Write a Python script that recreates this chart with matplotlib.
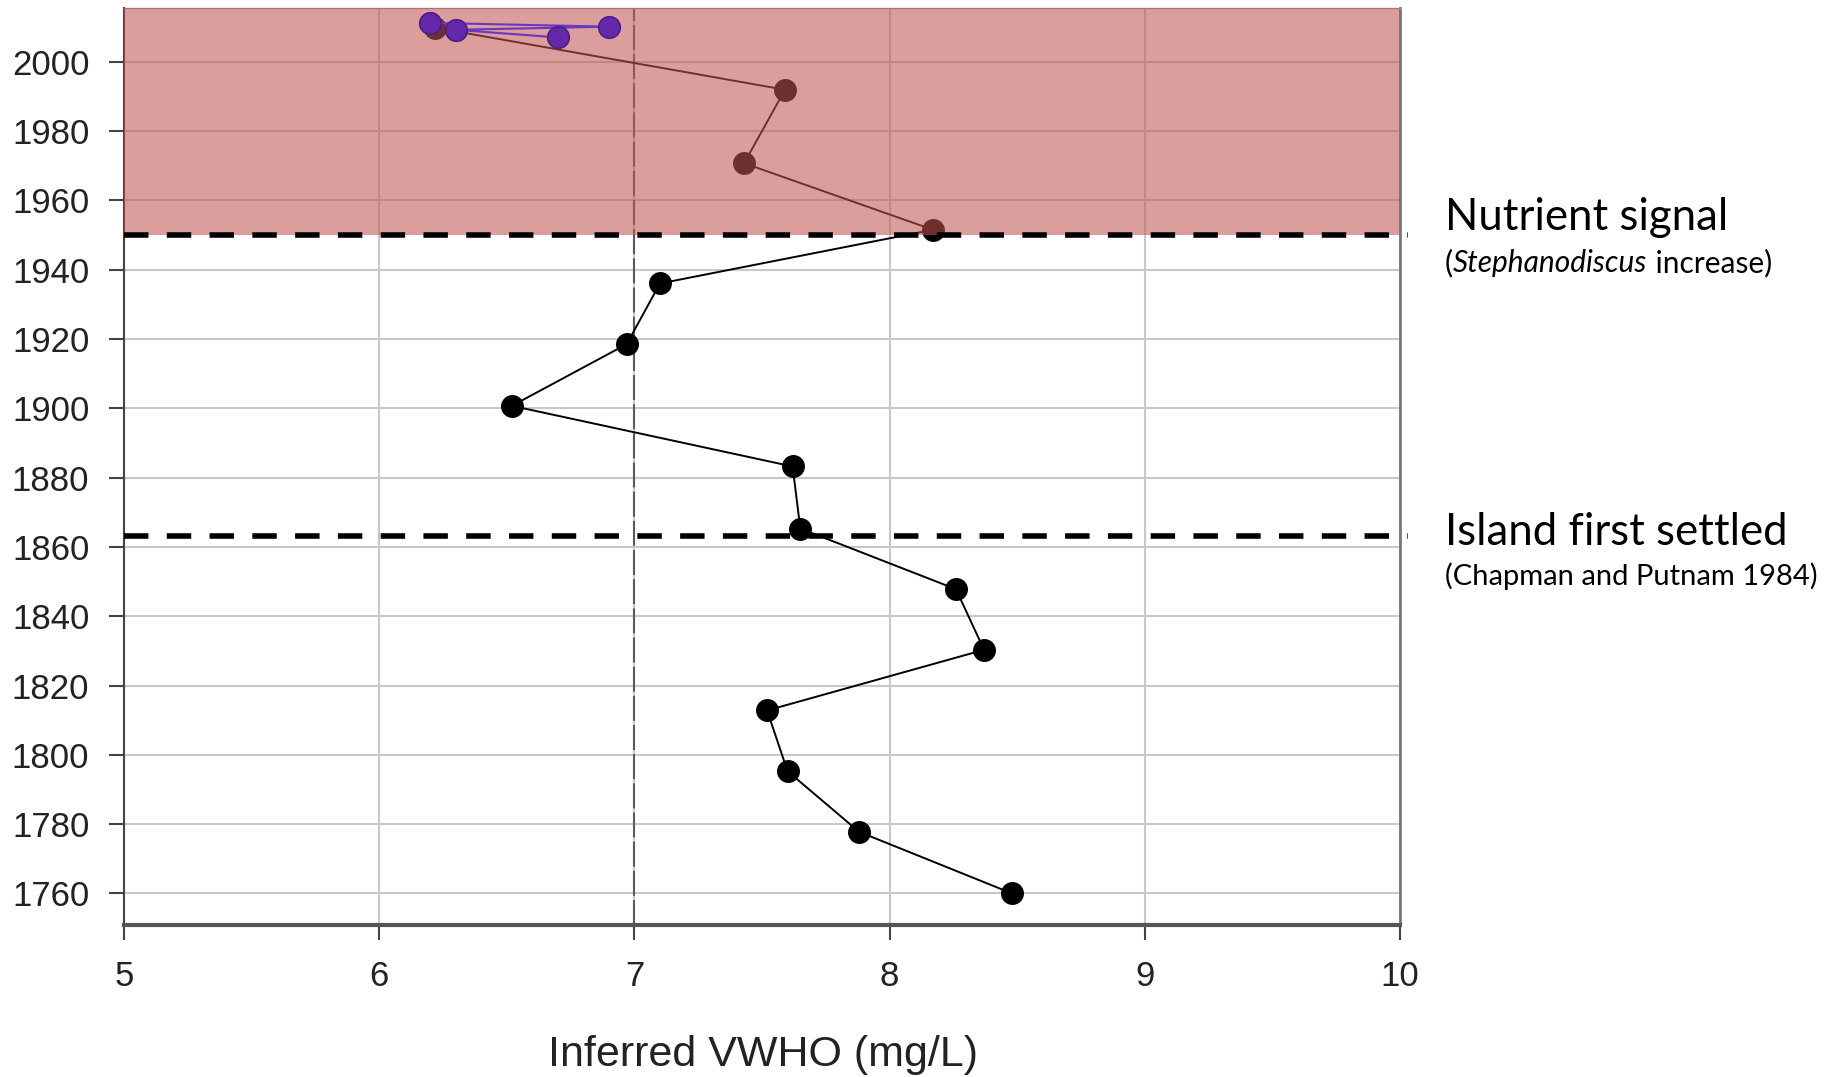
import matplotlib
matplotlib.use('Agg')
import matplotlib.pyplot as plt

# inferred VWHO (mg/L) by year, main core
years = [1760.0, 1777.8, 1795.3, 1812.8, 1830.3, 1847.8, 1865.3, 1883.2,
         1900.7, 1918.5, 1936.0, 1951.5, 1970.7, 1991.9, 2009.8]
vwho = [8.48, 7.88, 7.60, 7.52, 8.37, 8.26, 7.65, 7.62,
        6.52, 6.97, 7.10, 8.17, 7.43, 7.59, 6.22]

# recent samples (purple)
years_recent = [2011.2, 2010.1, 2009.2, 2007.0]
vwho_recent = [6.20, 6.90, 6.30, 6.70]

nutrient_year = 1950
settled_year = 1863
xticks = [5, 6, 7, 8, 9, 10]
yticks = list(range(1760, 2001, 20))

W, H = 1829, 1077
fig = plt.figure(figsize=(W / 100, H / 100), dpi=100)
ax = fig.add_axes([124 / W, 1 - 925 / H, 1276 / W, (925 - 8.3) / H])

ax.set_xlim(5, 10)
ax.set_ylim(1750.9, 2015.4)
ax.set_xticks(xticks)
ax.set_yticks(yticks)
ax.grid(True, color='#c8c8c8', lw=1.5, zorder=0)
ax.set_axisbelow(True)

# dashed reference at 7
ax.axvline(7, color='#5a5a5a', lw=1.5, ls=(0, (12, 2)), zorder=1)

ax.plot(vwho, years, '-', color='black', lw=1.4, zorder=3)
ax.plot(vwho, years, 'o', color='black', ms=15.5, zorder=4)

# shaded nutrient period drawn over the black series
ax.axhspan(nutrient_year, 2015.4, color=(0.76, 0.33, 0.33), alpha=0.57, lw=0, zorder=5)

ax.plot(vwho_recent, years_recent, '-', color='#6a38bc', lw=1.5, zorder=7)
ax.plot(vwho_recent, years_recent, 'o', color='#6428aa', mec='#4b1d86', mew=1.2, ms=15.5, zorder=8)

for yr in [nutrient_year, settled_year]:
    ax.plot([5, 10.03], [yr, yr], color='black', lw=4, ls=(0, (4.4, 3.3)),
            clip_on=False, zorder=6, solid_capstyle='butt', dash_capstyle='butt')

ax.spines['left'].set_color('#444444')
ax.spines['left'].set_linewidth(1.5)
ax.spines['bottom'].set_color('#555555')
ax.spines['bottom'].set_linewidth(3)
ax.spines['top'].set_color('#999999')
ax.spines['top'].set_linewidth(1)
ax.spines['right'].set_color('#777777')
ax.spines['right'].set_linewidth(2)

ax.tick_params(axis='both', direction='out', length=11, width=1.5, colors='#444444',
               labelcolor='#222222', labelsize=25)
ax.tick_params(axis='x', pad=14)
ax.tick_params(axis='y', pad=14)
for lab in ax.get_xticklabels() + ax.get_yticklabels():
    lab.set_family('Liberation Sans')

fig.text(763 / W, 1 - 1066 / H, 'Inferred VWHO (mg/L)', ha='center', va='baseline',
         fontsize=31, family='Liberation Sans', color='#222222')

# right-hand annotations
tx = 1445 / W
fig.text(tx, 1 - 230 / H, 'Nutrient signal', fontsize=31.5, family='Lato', va='baseline')
t1 = fig.text(tx, 1 - 272 / H, '(', fontsize=21.5, family='Lato', va='baseline')
t2 = ax.annotate('Stephanodiscus', xy=(1, 0), xycoords=t1, fontsize=21.5, family='Lato',
                 style='italic', va='bottom', ha='left', annotation_clip=False)
ax.annotate(' increase)', xy=(1, 0), xycoords=t2, fontsize=21.5, family='Lato',
            va='bottom', ha='left', annotation_clip=False)

fig.text(tx, 1 - 545 / H, 'Island first settled', fontsize=31.5, family='Lato', va='baseline')
fig.text(tx, 1 - 585 / H, '(Chapman and Putnam 1984)', fontsize=21, family='Lato', va='baseline')

fig.savefig('out.png', dpi=100)
